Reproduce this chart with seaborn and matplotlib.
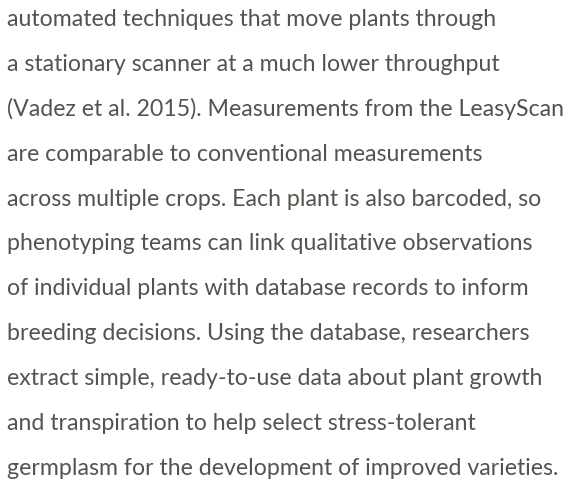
import matplotlib
matplotlib.use("Agg")
import matplotlib.pyplot as plt
import seaborn as sns

# text block, one entry per printed line
lines = [
    "automated techniques that move plants through",
    "a stationary scanner at a much lower throughput",
    "(Vadez et al. 2015). Measurements from the LeasyScan",
    "are comparable to conventional measurements",
    "across multiple crops. Each plant is also barcoded, so",
    "phenotyping teams can link qualitative observations",
    "of individual plants with database records to inform",
    "breeding decisions. Using the database, researchers",
    "extract simple, ready-to-use data about plant growth",
    "and transpiration to help select stress-tolerant",
    "germplasm for the development of improved varieties.",
]

sns.set_theme(style="white")
plt.rcParams['font.family'] = ['Lato', 'DejaVu Sans']

W, H = 579, 486
fig = plt.figure(figsize=(W / 100, H / 100), dpi=100)
fig.patch.set_facecolor("white")

first_base = 26
step = 44.9
for i, s in enumerate(lines):
    y = first_base + i * step
    fig.text(7 / W, 1 - y / H, s, fontsize=16.7, fontweight="normal",
             color="#57524d", ha="left", va="baseline")

fig.savefig("out.png", dpi=100, facecolor="white")
